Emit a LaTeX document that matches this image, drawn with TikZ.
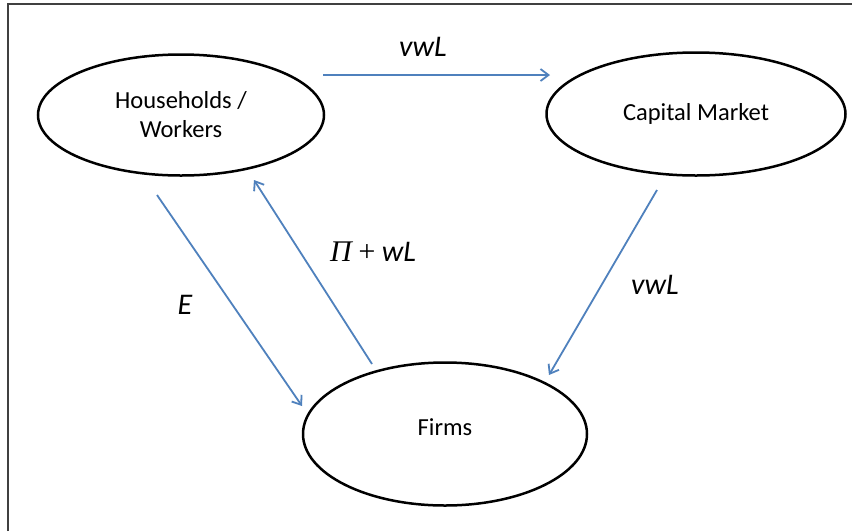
\documentclass[tikz,border=0pt]{standalone}
\usepackage{fontspec}
\setmainfont{Carlito}
\newfontfamily\libserif{Liberation Serif}
\usetikzlibrary{arrows.meta,shapes.geometric}
\begin{document}
\begin{tikzpicture}[x=1pt,y=-1pt,
  agent/.style={draw=black,line width=2.5pt,ellipse,inner sep=0pt,align=center,font=\fontsize{24.5}{29}\selectfont},
  flow/.style={draw={rgb,255:red,79;green,129;blue,189},line width=1.8pt,-{Straight Barb[length=8pt,width=12pt,line width=1.8pt]}},
  lbl/.style={font=\fontsize{30}{34}\selectfont\itshape}]
\useasboundingbox (0,0) rectangle (852,531);
\fill[white] (0,0) rectangle (852,531);
\draw[line width=1.4pt,black!75] (8,531) -- (8,4) -- (852,4);
\node[agent,minimum width=286pt,minimum height=121pt] (hh) at (181,115) {Households /\\Workers};
\node[agent,minimum width=299pt,minimum height=123pt] (cm) at (696,114) {\raisebox{-2pt}{Capital Market}};
\node[agent,minimum width=284pt,minimum height=143pt] (fi) at (445,434) {\raisebox{13pt}{Firms}};
\coordinate (a1) at (323,75); \coordinate (a2) at (550,75);
\coordinate (b1) at (657,190); \coordinate (b2) at (549,375);
\coordinate (c1) at (157,195); \coordinate (c2) at (302,406);
\coordinate (d1) at (372,364); \coordinate (d2) at (254,180);
\draw[flow] (a1) -- (a2);
\draw[flow] (b1) -- (b2);
\draw[flow] (c1) -- (c2);
\draw[flow] (d1) -- (d2);
\node[lbl] (l1) at (423,47) {vwL};
\node[lbl] (l2) at (655,285) {vwL};
\node[lbl] (l3) at (185,305) {E};
\node[lbl] (l4) at (373,252) {{\libserif Π\,+}\,wL};
\end{tikzpicture}
\end{document}
